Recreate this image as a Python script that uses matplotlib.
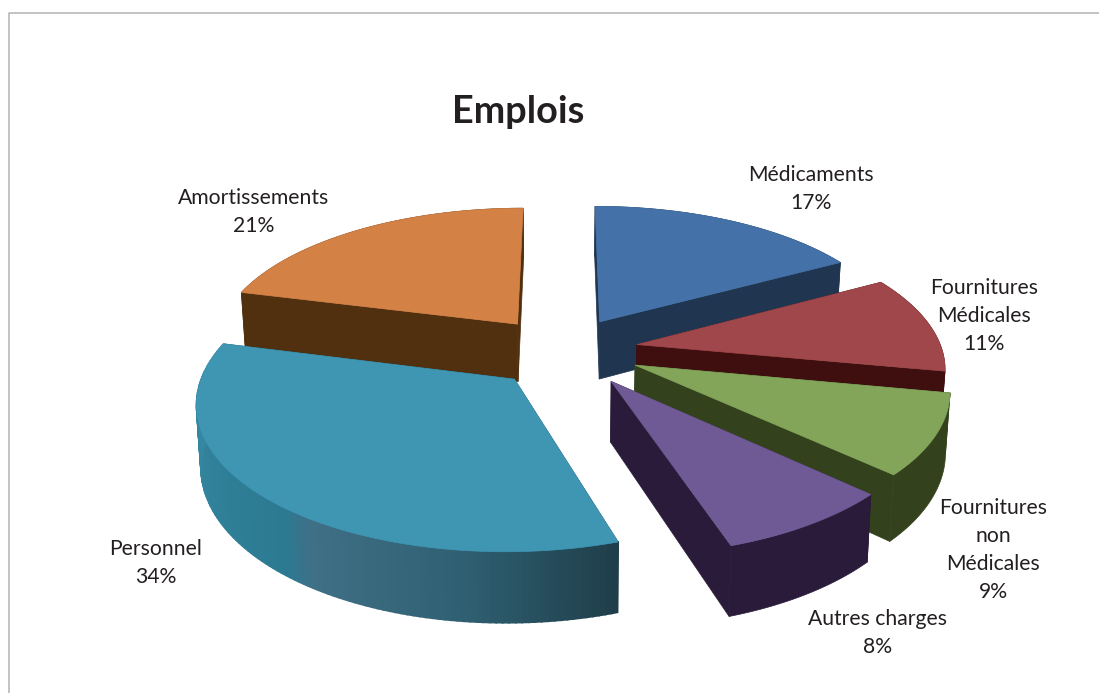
import numpy as np
from matplotlib import pyplot as plt
from matplotlib.colors import to_rgb
from matplotlib.patches import Polygon

labels = ['Médicaments', 'Fournitures\nMédicales', 'Fournitures\nnon\nMédicales',
          'Autres charges', 'Personnel', 'Amortissements']
shares = [17, 11, 9, 8, 34, 21]
top_colors = ['#4472A8', '#A0474B', '#82A55A', '#6F5A96', '#3F96B3', '#D48146']
side_colors = ['#203650', '#3F0E0E', '#33421C', '#2A1B3A', '#1F4452', '#50300F']
label_xy = [(811, 189), (984, 316), (993, 550), (878, 633), (156, 563), (254, 212)]
nudges = [(-1, 1), (-1, 0), (3, -1), (6, 1), (5, 3), (0, 1)]

# wall shading of the big slice, from its right end to its left end
wall_pos = [0, 0.2, 0.42, 0.47, 1]
wall_colors = ['#1F3E4A', '#2F6072', '#3F7086', '#2B7A92', '#3A8CA6']

# pie geometry, in pixels of the figure
cx, cy = 563, 350
radius = 305
tilt = 0.458
persp = 0.143
depth = 59
explode = 0.25

plt.rcParams['font.family'] = ['Lato', 'DejaVu Sans']

fig = plt.figure(figsize=(10.99, 6.93), dpi=100)
ax = fig.add_axes([0, 0, 1, 1])
ax.set_xlim(0, 1099)
ax.set_ylim(693, 0)
ax.axis('off')

# frame of the chart area
ax.plot([8.5, 8.5, 1099], [693, 12.5, 12.5], color='#b9b9b9', lw=1.2)


def project(x, y, z=0.0):
    s = 1 / (1 + persp * y)
    sx = cx + radius * x * s * (1 - 0.012 * z)
    sy = cy - radius * tilt * y * s + depth * s * z
    return np.column_stack([sx, sy])


def wall_color(f):
    rgb = np.array([to_rgb(c) for c in wall_colors])
    return [np.interp(f, wall_pos, rgb[:, k]) for k in range(3)]


edges = np.radians(np.concatenate([[0], np.cumsum(shares)]) * 3.6)

# back slices first, each one hides part of the previous one
order = [5, 0, 1, 2, 3, 4]
for i in order:
    a0, a1 = edges[i], edges[i + 1]
    mid = (a0 + a1) / 2
    ox, oy = explode * np.sin(mid), explode * np.cos(mid)
    ang = np.linspace(a0, a1, 120)
    x = ox + np.sin(ang)
    y = oy + np.cos(ang)
    tip_x, tip_y = np.array([ox]), np.array([oy])
    shift = np.array(nudges[i])

    tip_top = project(tip_x, tip_y) + shift
    tip_bot = project(tip_x, tip_y, 1) + shift
    arc_top = project(x, y) + shift
    arc_bot = project(x, y, 1) + shift

    # two cut faces
    for k in (0, -1):
        face = np.vstack([tip_top, arc_top[k], arc_bot[k], tip_bot])
        ax.add_patch(Polygon(face, fc=side_colors[i], ec=side_colors[i], lw=0.5))

    # outer wall, shaded only on the big slice
    if labels[i] == 'Personnel':
        n = len(ang) - 1
        for j in range(n):
            col = wall_color(j / (n - 1))
            quad = np.vstack([arc_top[j], arc_top[j + 1], arc_bot[j + 1], arc_bot[j]])
            ax.add_patch(Polygon(quad, fc=col, ec=col, lw=1.2))
    else:
        wall = np.vstack([arc_top, arc_bot[::-1]])
        ax.add_patch(Polygon(wall, fc=side_colors[i], ec=side_colors[i], lw=0.5))

    top = np.vstack([tip_top, arc_top])
    ax.add_patch(Polygon(top, fc=top_colors[i], ec=top_colors[i], lw=0.5))

for name, share, (lx, ly) in zip(labels, shares, label_xy):
    ax.text(lx, ly, f'{name}\n{share}%', ha='center', va='center', fontsize=15.2,
            color='#231f20', linespacing=1.5)

ax.text(518, 112, 'Emplois', ha='center', va='center', fontsize=27.3,
        fontweight='bold', color='#231f20')

fig.savefig('out.png', dpi=100)
